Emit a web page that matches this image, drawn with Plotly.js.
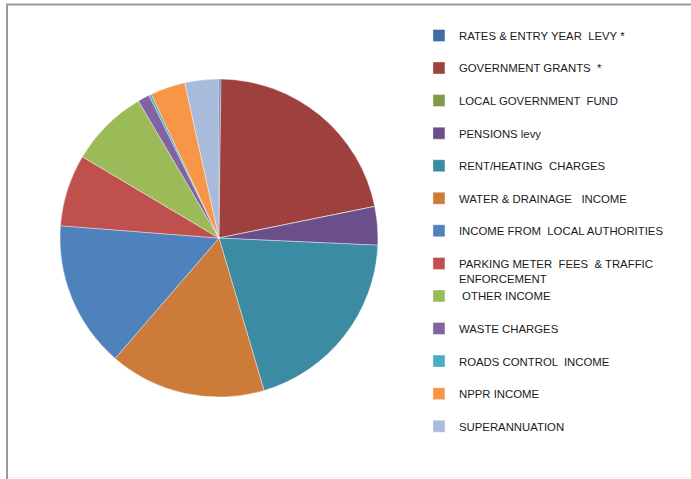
<!DOCTYPE html>
<html>
<head>
<meta charset="utf-8">
<script src="https://cdn.plot.ly/plotly-3.0.1.min.js"></script>
<style>
  html, body { margin: 0; padding: 0; background: #ffffff; }
  #chart { width: 691px; height: 479px; }
</style>
</head>
<body>
<div id="chart"></div>
<script>
// Categories (legend order = slice order, clockwise from 12 o'clock)
var categories = [
  "RATES & ENTRY YEAR  LEVY *",
  "GOVERNMENT GRANTS  *",
  "LOCAL GOVERNMENT  FUND",
  "PENSIONS levy",
  "RENT/HEATING  CHARGES",
  "WATER & DRAINAGE   INCOME",
  "INCOME FROM  LOCAL AUTHORITIES",
  "PARKING METER  FEES  & TRAFFIC<br>ENFORCEMENT",
  " OTHER INCOME",
  "WASTE CHARGES",
  "ROADS CONTROL  INCOME",
  "NPPR INCOME",
  "SUPERANNUATION"
];

// Share of income (%)
var shares = [0.2, 21.6, 0, 3.9, 19.7, 15.9, 14.9, 7.3, 8.0, 1.2, 0.25, 3.55, 3.45];

var sliceColors = [
  "#3F6CA3", "#9E413E", "#7E9B47", "#6B4F8A", "#3B8CA2", "#CC7B38",
  "#4F81BD", "#C0504D", "#9BBB59", "#8064A2", "#4BACC6", "#F79646", "#A9BBDA"
];

// Legend labels: a trailing empty line gives every entry the same height
var legendLabels = categories.map(function (c) {
  return c.indexOf("<br>") >= 0 ? c : c + "<br>";
});

var trace = {
  type: "pie",
  labels: legendLabels,
  values: shares,
  sort: false,
  direction: "clockwise",
  rotation: 0,
  textinfo: "none",
  hoverinfo: "label+percent",
  marker: {
    colors: sliceColors,
    line: { color: "rgba(255,255,255,0.55)", width: 0.7 }
  },
  domain: { x: [0.0868, 0.5470], y: [0.171, 0.835] },
  showlegend: true
};

var layout = {
  width: 691,
  height: 479,
  margin: { l: 0, r: 0, t: 0, b: 0 },
  paper_bgcolor: "#ffffff",
  plot_bgcolor: "#ffffff",
  font: { family: "Liberation Sans, Arial, sans-serif", color: "#1a1a1a" },
  showlegend: true,
  legend: {
    x: 0.6063,
    xanchor: "left",
    y: 0.955,
    yanchor: "top",
    valign: "top",
    font: { size: 11.37, family: "Liberation Sans, Arial, sans-serif", color: "#1a1a1a" },
    bgcolor: "rgba(0,0,0,0)",
    traceorder: "normal"
  },
  shapes: [
    { type: "line", xref: "paper", yref: "paper", x0: 6 / 691, x1: 1, y0: 1 - 4.5 / 479, y1: 1 - 4.5 / 479,
      line: { color: "#9a9a9a", width: 2 } },
    { type: "line", xref: "paper", yref: "paper", x0: 7 / 691, x1: 7 / 691, y0: 0, y1: 1 - 4 / 479,
      line: { color: "#9a9a9a", width: 2 } },
    { type: "line", xref: "paper", yref: "paper", x0: 8 / 691, x1: 1, y0: 1.5 / 479, y1: 1.5 / 479,
      line: { color: "#ececec", width: 1 } }
  ]
};

Plotly.newPlot("chart", [trace], layout, { displayModeBar: false, staticPlot: true });
</script>
</body>
</html>
